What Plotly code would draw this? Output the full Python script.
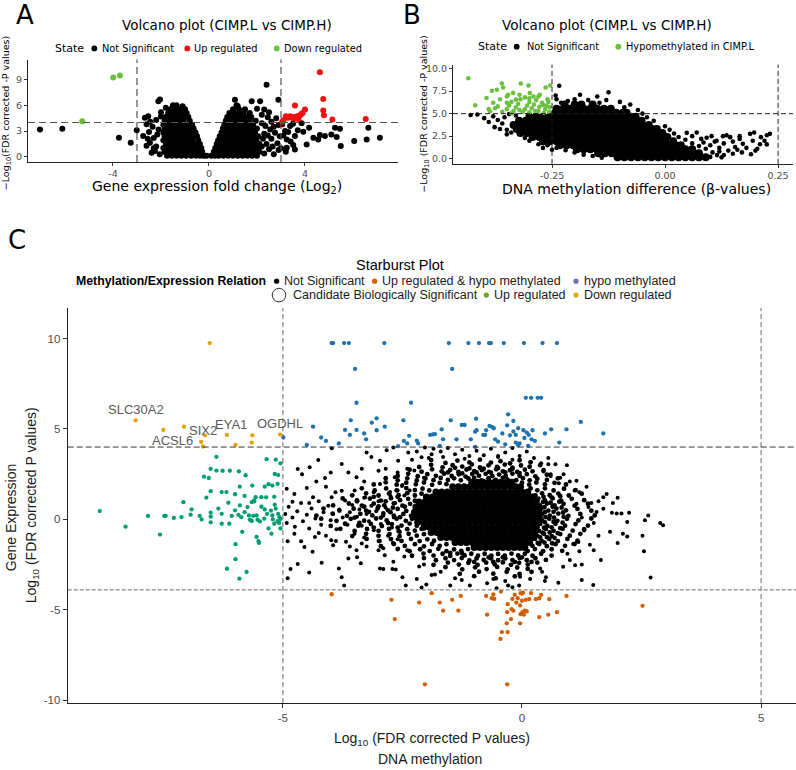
import plotly.graph_objects as go

W, H = 796, 770
def PX(p): return p / W
def PY(p): return 1 - p / H

# ================= Panel A : expression volcano =================
A_xticks = [-4, 0, 4]
A_yticks = [0, 3, 6, 9]
A_fc_cut = [-3, 3]
A_p_cut = 4
A_down_pts = [(-3.99, 9.23), (-3.71, 9.46), (-5.28, 4.15)]
A_up_pts = [(4.62, 9.84), (4.76, 6.73), (4.76, 5.38), (4.79, 4.84), (5.14, 4.35), (6.53, 4.42), (3.58, 5.96),
            (4.0, 5.5), (3.9, 5.11), (3.8, 4.84), (3.65, 4.61), (3.55, 4.65), (3.38, 4.73), (3.2, 4.73), (3.1, 4.27),
            (3.73, 4.4), (3.62, 4.45), (3.85, 5.0), (3.3, 4.55), (3.05, 4.1), (3.7, 4.75), (3.5, 4.5)]
A_ns_pts = [(-7.04, 3.19), (-6.11, 3.27), (-3.75, 2.23), (-3.26, 1.65), (-3.01, 3.11),
            (-2.04, 6.66), (-2.11, 6.46), (-2.67, 4.54), (-2.53, 4.73), (-2.45, 4.1), (-2.6, 3.8), (-2.35, 3.5),
            (-2.2, 4.3), (-2.74, 2.42), (-2.5, 2.9), (-2.46, 1.65), (-2.3, 2.2), (-2.39, 0.5), (-2.2, 1.2),
            (-2.05, 0.3), (-2.1, 3.2), (-2.0, 5.2), (-2.3, 1.0), (-2.55, 2.1), (-2.15, 2.6), (-2.0, 4.7),
            (-2.25, 0.7), (-2.6, 1.3), (-1.8, 5.7), (-1.5, 6.0), (-1.1, 5.9),
            (2.3, 0.4), (2.5, 0.9), (2.7, 0.3), (2.4, 1.5), (2.6, 2.1), (2.85, 1.6), (2.3, 2.7), (2.55, 3.2),
            (2.75, 2.8), (2.35, 3.6), (2.6, 4.1), (2.9, 3.7), (2.45, 4.6), (2.2, 4.9), (2.8, 4.5), (2.95, 2.4),
            (2.65, 1.2), (2.9, 0.8), (2.3, 5.5), (2.13, 6.46), (1.78, 6.46), (1.08, 6.65), (2.4, 8.38),
            (2.89, 6.65), (1.2, 5.9), (2.0, 5.6), (2.5, 5.2), (2.7, 3.5), (2.2, 3.9), (2.25, 2.1), (2.2, 1.2),
            (2.45, 2.5), (5.25, 3.38), (5.46, 3.27), (6.64, 3.38), (7.12, 2.23), (6.57, 2.04), (6.05, 1.85),
            (5.49, 1.27), (5.32, 2.31), (4.62, 2.54), (4.83, 2.42), (4.55, 2.04), (4.35, 2.23), (4.07, 1.46),
            (4.17, 3.38), (3.93, 2.92), (3.58, 2.42), (3.51, 1.38), (3.58, 0.88), (3.24, 1.07), (3.0, 1.0),
            (3.38, 3.58), (3.5, 3.85), (3.17, 3.0), (3.24, 2.04), (3.3, 2.9), (3.7, 3.1), (3.86, 3.9), (3.1, 2.5),
            (3.4, 1.8), (3.05, 3.8), (3.2, 0.6), (5.1, 2.6)]
A_core_y = [0.15, 0.6, 1.05, 1.5, 1.95, 2.4, 2.85, 3.3, 3.75, 4.2, 4.65, 5.1, 5.55, 6.0]
A_core_x = [
    [-1.75, -1.55, -1.35, -1.15, -0.95, -0.75, -0.55, -0.38, -0.22, -0.1, 0.1, 0.24, 0.4, 0.6, 0.8, 1.0, 1.2, 1.4, 1.6, 1.8, 2.0],
    [-1.85, -1.65, -1.45, -1.25, -1.05, -0.85, -0.65, -0.45, -0.28, 0.2, 0.36, 0.52, 0.7, 0.9, 1.1, 1.3, 1.5, 1.7, 1.9, 2.1],
    [-1.9, -1.7, -1.5, -1.3, -1.1, -0.9, -0.7, -0.5, -0.32, 0.26, 0.44, 0.62, 0.8, 1.0, 1.2, 1.4, 1.6, 1.8, 2.0],
    [-1.8, -1.6, -1.4, -1.2, -1.0, -0.8, -0.6, -0.38, 0.32, 0.5, 0.7, 0.9, 1.1, 1.3, 1.5, 1.7, 1.9, 2.1],
    [-1.9, -1.7, -1.5, -1.3, -1.1, -0.9, -0.7, -0.45, 0.38, 0.58, 0.78, 0.98, 1.18, 1.38, 1.58, 1.78, 1.98],
    [-1.85, -1.65, -1.45, -1.25, -1.05, -0.85, -0.65, -0.5, 0.45, 0.65, 0.85, 1.05, 1.25, 1.45, 1.65, 1.85, 2.05],
    [-1.9, -1.7, -1.5, -1.3, -1.1, -0.9, -0.7, -0.56, 0.52, 0.72, 0.92, 1.12, 1.32, 1.52, 1.72, 1.92],
    [-1.85, -1.65, -1.45, -1.25, -1.05, -0.85, -0.64, 0.58, 0.78, 0.98, 1.18, 1.38, 1.58, 1.78, 2.0],
    [-1.9, -1.7, -1.5, -1.3, -1.1, -0.9, -0.7, 0.64, 0.84, 1.04, 1.24, 1.44, 1.64, 1.84],
    [-1.85, -1.65, -1.45, -1.25, -1.05, -0.8, 0.7, 0.9, 1.1, 1.3, 1.5, 1.7, 1.95],
    [-1.8, -1.6, -1.4, -1.2, -1.0, -0.86, 0.76, 0.96, 1.16, 1.36, 1.56, 1.76],
    [-1.7, -1.5, -1.3, -1.1, -0.93, 0.85, 1.05, 1.25, 1.45, 1.7],
    [-1.6, -1.4, -1.2, -1.0, 1.0, 1.25, 1.5],
    [-1.35, 1.15]]

# ================= Panel B : methylation volcano =================
B_xticks = [-0.25, 0.0, 0.25]
B_xticktext = ["-0.25", "0.00", "0.25"]
B_yticks = [0, 2.5, 5, 7.5, 10]
B_yticktext = ["0.0", "2.5", "5.0", "7.5", "10.0"]
B_diff_cut = [-0.25, 0.25]
B_p_cut = 5
B_hypo_pts = [(-0.435, 8.93), (-0.42, 5.92), (-0.395, 6.73), (-0.383, 7.54), (-0.372, 7.65), (-0.361, 8.35),
              (-0.358, 7.9), (-0.387, 5.26), (-0.376, 5.6), (-0.319, 8.35), (-0.302, 8.12), (-0.264, 7.9),
              (-0.254, 8.12), (-0.347, 7.1), (-0.336, 7.3), (-0.322, 7.1), (-0.299, 7.28), (-0.291, 6.9),
              (-0.277, 7.1), (-0.36, 5.2), (-0.35, 5.5), (-0.345, 5.9), (-0.34, 6.3), (-0.335, 5.3), (-0.33, 5.7),
              (-0.325, 6.1), (-0.32, 6.6), (-0.315, 5.2), (-0.31, 5.5), (-0.305, 5.9), (-0.3, 6.3), (-0.3, 5.15),
              (-0.295, 5.6), (-0.29, 6.0), (-0.285, 6.5), (-0.28, 5.3), (-0.278, 5.75), (-0.272, 6.2),
              (-0.268, 5.1), (-0.265, 5.5), (-0.262, 5.9), (-0.258, 6.3), (-0.256, 5.2), (-0.255, 5.7),
              (-0.31, 6.8), (-0.33, 6.55), (-0.35, 6.2), (-0.37, 5.8), (-0.38, 6.2), (-0.365, 6.6), (-0.39, 5.5),
              (-0.322, 5.4), (-0.287, 5.3), (-0.27, 5.95), (-0.34, 5.05), (-0.3, 6.7), (-0.28, 6.9), (-0.26, 6.6),
              (-0.35, 6.9)]
B_ns_pts = [(-0.415, 4.9), (-0.39, 4.08), (-0.377, 3.5), (-0.37, 4.3), (-0.36, 3.9), (-0.355, 4.6), (-0.35, 3.2),
            (-0.345, 4.95), (-0.34, 2.9), (-0.33, 4.8), (-0.4, 4.5), (-0.38, 4.7), (-0.365, 3.3), (-0.35, 2.7),
            (-0.43, 4.85), (-0.234, 8.1), (-0.125, 7.36), (-0.188, 7.1), (-0.2, 6.6), (-0.215, 6.4), (-0.17, 6.5),
            (-0.145, 6.2), (-0.13, 6.5), (-0.1, 6.3), (-0.077, 6.0), (-0.09, 5.7), (-0.06, 5.4), (-0.05, 5.0),
            (-0.04, 4.6), (-0.025, 4.2), (-0.15, 6.9), (-0.24, 6.6), (-0.23, 6.2), (-0.242, 7.0),
            (0.0, 3.6), (0.01, 3.2), (0.02, 2.8), (0.03, 2.4), (0.045, 2.1), (0.06, 1.7), (0.075, 1.4), (0.09, 1.1),
            (0.105, 0.7), (0.115, 0.4), (0.048, 2.87), (0.07, 2.9), (0.092, 2.32), (0.114, 2.0), (0.136, 2.6),
            (0.15, 1.9), (0.165, 2.2), (0.172, 1.65), (0.194, 2.0), (0.197, 2.9), (0.204, 1.1), (0.225, 2.61),
            (0.232, 2.76), (0.212, 2.39), (0.188, 2.76), (0.225, 1.59), (0.165, 2.5), (0.144, 2.39), (0.128, 2.5),
            (0.103, 2.5), (0.085, 1.8), (0.1, 1.5), (0.12, 1.2), (0.13, 1.7), (0.14, 0.9), (0.155, 1.3),
            (0.17, 0.7), (0.18, 1.2), (0.19, 0.5), (0.13, 0.4), (0.15, 0.55), (0.2, 0.9), (0.21, 1.6), (0.22, 2.0),
            (0.11, 1.9), (0.08, 2.2), (0.06, 2.5), (0.12, 0.8), (0.16, 1.0), (0.1, 0.2), (0.125, 0.15),
            (-0.31, 2.3), (-0.28, 1.6), (-0.26, 1.5), (-0.24, 1.2), (-0.22, 0.95), (-0.2, 0.7), (-0.18, 0.45),
            (-0.16, 0.3), (-0.14, 0.1), (-0.3, 2.0), (-0.27, 1.2), (-0.25, 1.0)]
B_core_y = [0.15, 0.6, 1.05, 1.5, 1.95, 2.4, 2.85, 3.3, 3.75, 4.2, 4.65, 5.1, 5.55, 6.0]
B_core_x = [
    [-0.105, -0.09, -0.075, -0.06, -0.045, -0.03, -0.015, 0.0, 0.015, 0.03, 0.045, 0.06, 0.075, 0.09],
    [-0.148, -0.133, -0.118, -0.103, -0.088, -0.073, -0.058, -0.043, -0.028, -0.013, 0.002, 0.017, 0.032, 0.047, 0.062, 0.075],
    [-0.195, -0.18, -0.165, -0.15, -0.135, -0.12, -0.105, -0.09, -0.075, -0.06, -0.045, -0.03, -0.015, 0.0, 0.015, 0.03, 0.045, 0.06],
    [-0.233, -0.218, -0.203, -0.188, -0.173, -0.158, -0.143, -0.128, -0.113, -0.098, -0.083, -0.068, -0.053, -0.038, -0.023, -0.008, 0.007, 0.022, 0.035],
    [-0.27, -0.255, -0.24, -0.225, -0.21, -0.195, -0.18, -0.165, -0.15, -0.135, -0.12, -0.105, -0.09, -0.075, -0.06, -0.045, -0.03, -0.015, 0.0, 0.018],
    [-0.293, -0.278, -0.263, -0.248, -0.233, -0.218, -0.203, -0.188, -0.173, -0.158, -0.143, -0.128, -0.113, -0.098, -0.083, -0.068, -0.053, -0.038, -0.023, -0.008, 0.005],
    [-0.32, -0.305, -0.29, -0.275, -0.26, -0.245, -0.23, -0.215, -0.2, -0.185, -0.17, -0.155, -0.14, -0.125, -0.11, -0.095, -0.08, -0.065, -0.05, -0.035, -0.02, -0.006],
    [-0.328, -0.313, -0.298, -0.283, -0.268, -0.253, -0.238, -0.223, -0.208, -0.193, -0.178, -0.163, -0.148, -0.133, -0.118, -0.103, -0.088, -0.073, -0.058, -0.043, -0.028, -0.018],
    [-0.335, -0.32, -0.305, -0.29, -0.275, -0.26, -0.245, -0.23, -0.215, -0.2, -0.185, -0.17, -0.155, -0.14, -0.125, -0.11, -0.095, -0.08, -0.065, -0.05, -0.036],
    [-0.323, -0.308, -0.293, -0.278, -0.263, -0.248, -0.233, -0.218, -0.203, -0.188, -0.173, -0.158, -0.143, -0.128, -0.113, -0.098, -0.083, -0.068, -0.052],
    [-0.3, -0.285, -0.27, -0.255, -0.24, -0.225, -0.21, -0.195, -0.18, -0.165, -0.15, -0.135, -0.12, -0.105, -0.09, -0.075, -0.065],
    [-0.243, -0.228, -0.213, -0.198, -0.183, -0.168, -0.153, -0.138, -0.123, -0.108, -0.093, -0.085],
    [-0.24, -0.225, -0.21, -0.195, -0.18, -0.165, -0.15, -0.135, -0.12],
    [-0.222, -0.2, -0.185, -0.16]]

# ================= Panel C : starburst =================
C_xticks = [-5, 0, 5]
C_yticks = [-10, -5, 0, 5, 10]
C_meth_cut = [-5, 5]
C_exp_cut = [4, -3.9]
C_down_pts = [(-6.53, 9.75), (-8.08, 5.48), (-7.5, 4.95), (-7.07, 5.13), (-6.63, 4.65), (-6.71, 4.29), (-6.67, 4.03),
              (-6.17, 4.67), (-5.99, 4.12), (-5.64, 4.65), (-5.65, 4.25), (-5.06, 4.69)]
C_gene_names = ["SLC30A2", "SIX2", "ACSL6", "EYA1", "OGDHL"]
C_gene_x = [-8.08, -6.71, -6.67, -6.17, -5.06]
C_gene_y = [5.48, 4.29, 4.03, 4.67, 4.69]
C_up_pts = [(-3.98, 9.75), (-3.95, 9.75), (-3.72, 9.75), (-3.62, 9.75), (-2.88, 9.75), (-1.53, 9.75), (-1.12, 9.75),
            (-0.9, 9.75), (-0.69, 9.75), (-0.65, 9.75), (-0.38, 9.75), (0.04, 9.75), (0.43, 9.75), (0.73, 9.75),
            (-3.49, 8.32), (-1.46, 8.32), (-3.46, 6.45), (-2.32, 6.45), (0.08, 6.72), (0.19, 6.72), (0.33, 6.72),
            (0.4, 6.72), (-3.58, 5.48), (-3.04, 5.59), (-3.14, 5.35), (-2.87, 5.13), (-2.48, 5.48), (-4.37, 5.13),
            (-3.7, 4.95), (-3.46, 4.95), (-3.6, 4.67), (-3.3, 4.75), (-3.26, 4.43), (-3.04, 4.93), (-4.2, 4.53),
            (-4.1, 4.34), (-3.83, 4.2), (-4.5, 4.12), (-4.99, 4.53), (-2.47, 4.34), (-2.4, 4.2), (-2.36, 4.62),
            (-1.92, 4.67), (-1.86, 4.7), (-2.17, 4.2), (-0.29, 5.81), (-0.18, 5.44), (-0.96, 5.57), (-1.49, 5.48),
            (-1.26, 5.22), (-1.2, 5.22), (-0.68, 5.17), (-0.63, 5.12), (-0.31, 5.2), (1.23, 5.39), (0.93, 4.98),
            (0.61, 4.98), (1.7, 4.75), (0.48, 4.75), (0.78, 4.25), (-1.68, 4.98), (-1.82, 4.71), (-1.65, 4.43),
            (-1.37, 4.43), (-1.07, 4.43), (-0.95, 4.93), (-0.98, 4.85), (-0.81, 4.67), (-0.77, 4.67), (-0.75, 4.93),
            (-0.59, 5.04), (-0.56, 4.43), (-0.41, 4.75), (-0.25, 4.65), (-0.18, 4.86), (-0.08, 5.04), (-0.13, 4.67),
            (0.03, 4.93), (0.1, 4.8), (0.14, 4.67), (0.22, 4.93), (0.2, 4.43), (0.27, 4.34), (-0.13, 4.25),
            (-0.05, 4.2), (-0.08, 4.1), (0.13, 4.07), (-1.72, 4.07), (-0.98, 4.01), (-2.59, 4.05), (-2.2, 4.35),
            (-0.5, 4.3), (-0.35, 4.15), (0.05, 4.5)]
C_uphypo_pts = [(-3.98, -4.14), (-2.73, -4.45), (-2.15, -4.6), (-2.66, -5.51), (-2.03, -9.12), (-1.89, -4.08),
                (-1.72, -4.6), (-1.65, -5.05), (-1.46, -4.45), (-1.33, -5.05), (-1.28, -4.23), (-0.73, -5.27),
                (-0.75, -4.23), (-0.63, -4.36), (-0.6, -4.15), (-0.58, -4.4), (-0.44, -3.99), (-0.3, -4.69),
                (-0.31, -5.13), (-0.22, -4.96), (-0.18, -5.05), (-0.23, -5.51), (-0.32, -5.75), (-0.04, -5.75),
                (-0.42, -6.23), (-0.3, -6.23), (-0.45, -6.61), (-0.31, -9.12), (-0.15, -4.17), (-0.09, -4.36),
                (-0.03, -4.08), (0.0, -4.1), (0.02, -4.05), (-0.04, -4.76), (-0.03, -5.24), (0.01, -5.13),
                (0.06, -5.05), (0.1, -5.09), (0.04, -5.27), (0.08, -4.45), (0.15, -4.41), (0.19, -4.08),
                (0.29, -4.41), (0.36, -4.36), (0.4, -4.17), (0.57, -4.41), (0.36, -5.4), (0.55, -5.27),
                (0.73, -5.13), (0.93, -4.23), (2.52, -4.78), (-0.12, -4.6), (0.0, -4.5), (-0.2, -4.4)]
C_hypo_pts = [(-6.39, 3.46), (-6.51, 2.79), (-6.39, 2.7), (-6.26, 2.69), (-6.11, 2.69), (-5.92, 2.65), (-5.78, 2.44),
              (-6.65, 2.36), (-6.55, 2.29), (-5.34, 3.33), (-5.15, 3.3), (-5.05, 3.1), (-5.17, 2.51), (-5.1, 2.45),
              (-5.9, 1.81), (-5.64, 1.87), (-5.38, 1.81), (-5.3, 1.95), (-5.22, 1.87), (-5.11, 1.96), (-6.18, 1.51),
              (-6.28, 1.51), (-6.51, 1.56), (-6.0, 1.39), (-5.8, 1.3), (-5.57, 1.23), (-5.6, 1.05), (-5.45, 1.23),
              (-5.35, 1.22), (-5.18, 1.25), (-7.08, 0.95), (-6.6, 1.2), (-8.83, 0.46), (-8.29, -0.4), (-7.82, 0.19),
              (-7.48, 0.19), (-7.45, 0.2), (-7.28, 0.08), (-7.12, 0.13), (-6.93, 0.26), (-6.91, 0.55), (-6.74, 0.19),
              (-7.57, -0.84), (-6.51, 0.37), (-6.51, -0.16), (-6.51, 0.15), (-6.28, 0.31), (-6.28, -0.24),
              (-6.12, -0.24), (-6.14, 0.92), (-6.07, 0.19), (-5.9, 0.77), (-5.93, 0.25), (-5.87, 0.12), (-5.85, -0.69),
              (-5.71, 0.22), (-5.69, -0.02), (-5.65, -0.09), (-5.62, 0.2), (-5.55, 0.22), (-5.53, -0.02),
              (-5.48, -0.11), (-5.74, 0.68), (-5.65, 0.95), (-5.6, 1.0), (-5.39, 0.04), (-5.38, 0.55), (-5.33, 0.3),
              (-5.25, 0.49), (-5.22, 0.22), (-5.21, 0.0), (-5.18, -0.24), (-5.17, 0.81), (-5.1, 0.31), (-5.11, -0.1),
              (-5.08, -0.2), (-5.15, 0.6), (-5.07, 0.12), (-5.05, 0.02), (-5.24, -0.79), (-5.55, -0.97),
              (-5.51, -1.21), (-5.5, -1.3), (-5.99, -1.37), (-5.99, -2.2), (-6.17, -2.73), (-5.76, -2.91),
              (-5.91, -3.28), (-5.8, 0.4), (-5.45, 0.7), (-6.0, 0.5), (-6.35, 0.6), (-6.7, 0.0), (-5.3, -0.5),
              (-5.05, -0.5)]
C_ns_pts = [(-4.9, -3.26), (-4.84, -2.75), (-4.69, -2.47), (-4.45, -2.93), (-4.19, -2.4), (-3.83, -2.71), (-3.77, -3.2),
            (-3.72, -3.66), (-3.63, -2.16), (-3.37, -2.43), (-3.45, -2.1), (-2.97, -2.71), (-2.9, -2.75),
            (-2.71, -2.75), (-2.64, -2.77), (-2.5, -3.2), (-2.43, -3.66), (-2.2, -3.3), (-2.1, -3.77), (-2.0, -3.6),
            (-1.89, -3.08), (-2.15, -2.6), (-2.05, -2.5), (-2.69, -2.34), (-2.46, -2.05), (-2.59, -1.61),
            (-2.4, -1.7), (-2.9, -1.6), (-3.0, -1.7), (-2.87, -1.98), (-3.35, -1.34), (-3.25, -1.5), (-3.46, -1.7),
            (-3.6, -1.5), (-3.68, -1.24), (-3.89, -1.19), (-3.99, -1.16), (-3.95, -1.43), (-4.25, -0.75),
            (-4.33, -0.97), (-4.38, -1.79), (-4.62, -1.21), (-4.55, -1.52), (-4.76, -0.79), (-4.9, -1.21),
            (-4.95, 0.3), (-4.92, -0.2), (-4.88, 0.7), (-4.8, 0.1), (-4.75, -0.4), (-4.7, 0.45), (-4.62, 0.9),
            (-4.58, -0.1), (-4.5, 0.25), (-4.45, -0.5), (-4.4, 0.6), (-4.32, 0.05), (-4.25, 1.0), (-4.2, -0.3),
            (-4.15, 0.4), (-4.05, 0.75), (-4.0, -0.05), (-3.95, 0.3), (-3.88, -0.55), (-3.82, 0.55), (-3.75, 0.1),
            (-3.7, 1.05), (-3.65, -0.3), (-3.6, 0.4), (-3.55, 0.8), (-3.5, -0.8), (-3.45, 0.15), (-3.4, 0.55),
            (-3.35, -0.35), (-3.3, 1.2), (-3.25, 0.3), (-3.2, -0.1), (-3.15, 0.75), (-3.1, -0.6), (-3.05, 0.45),
            (-3.0, 1.0), (-2.95, -0.25), (-2.9, 0.2), (-2.85, 0.65), (-2.8, -0.9), (-2.75, 1.3), (-2.72, -0.45),
            (-2.68, 0.1), (-2.65, 0.9), (-2.6, -1.1), (-2.6, 1.6), (-2.55, -0.7), (-2.5, 1.9), (-3.9, 1.5),
            (-4.1, -0.9), (-3.3, -1.0), (-3.0, -1.2), (-2.7, -1.3),
            (-4.69, 2.79), (-4.6, 2.5), (-4.44, 2.88), (-4.26, 3.28), (-4.12, 2.29), (-4.0, 2.6), (-3.98, 3.94),
            (-3.77, 3.06), (-3.63, 2.6), (-3.77, 1.59), (-4.1, 1.8), (-4.5, 1.74), (-4.76, 1.41), (-4.92, 1.69),
            (-4.8, 0.98), (-3.25, 3.7), (-3.15, 3.45), (-2.97, 3.24), (-3.0, 2.69), (-2.83, 3.83), (-2.69, 3.98),
            (-2.59, 3.24), (-2.38, 3.7), (-2.3, 3.3), (-2.2, 3.75), (-2.1, 3.43), (-2.03, 3.98), (-1.89, 3.6),
            (-3.46, 2.33), (-3.3, 2.1), (-2.97, 1.96), (-2.66, 2.33), (-2.51, 1.84), (-2.18, 2.42), (-2.05, 2.3),
            (-2.76, 1.51), (-2.46, 1.32), (-2.35, 1.6), (-3.28, 1.23), (-3.98, 1.23), (-4.37, 1.23), (-3.5, 1.6),
            (-3.1, 1.5), (-2.85, 2.8), (-2.4, 2.8), (-2.6, 2.6), (-2.25, 2.7), (-3.35, 2.8), (-4.3, 2.1), (-4.45, 0.9),
            (-1.85, 3.9), (-1.7, 3.75), (-1.55, 3.95), (-1.4, 3.6), (-1.25, 3.85), (-1.1, 3.5), (-0.95, 3.8),
            (-0.8, 3.55), (-0.65, 3.9), (-0.5, 3.45), (-0.35, 3.7), (-0.2, 3.95), (-0.05, 3.5), (0.1, 3.75),
            (0.25, 3.4), (0.4, 3.1), (0.55, 3.05), (0.7, 3.05), (0.94, 3.0), (0.45, 2.65), (0.6, 2.5), (0.8, 2.3),
            (1.0, 2.1), (1.1, 1.6), (-1.95, 3.4), (-1.65, 3.45), (-1.2, 3.35), (-0.5, 3.5), (-0.2, 3.3),
            (2.64, 0.22), (2.57, -0.05), (2.89, -0.2), (2.95, -0.33), (2.52, -0.91), (2.55, -1.76), (2.69, -3.22),
            (2.24, 0.37), (2.08, 0.32), (1.98, 0.32), (1.88, 0.37), (2.2, -0.15), (2.11, -0.79), (2.2, -0.95),
            (1.84, -0.69), (1.65, -2.25), (1.49, -3.63), (1.25, -3.35), (1.25, -2.5), (1.11, -2.53), (1.2, -1.76),
            (1.42, -1.4), (1.18, -1.25), (1.0, -2.25), (0.86, -2.62), (0.95, -1.9), (1.07, -1.36), (1.3, -0.62),
            (1.5, -0.2), (1.56, 0.41), (1.7, 0.59), (1.39, 0.68), (1.25, 0.1), (1.14, 0.86),
            (1.14, 2.14), (1.2, 1.5), (1.7, 1.23), (1.77, 1.41), (1.45, 0.9), (0.87, 2.49), (0.77, 2.0), (0.6, 2.4),
            (0.55, 3.39), (1.6, 1.0), (1.9, 0.9), (2.0, 1.2), (1.35, 1.8), (1.6, -0.9), (1.5, -1.7), (2.0, -1.3),
            (-1.82, -3.05), (-1.4, -3.26), (-1.5, -3.66), (-1.26, -3.35), (-1.09, -3.66), (-0.73, -3.53),
            (-0.53, -3.81), (-0.29, -3.66), (-0.2, -3.75), (-0.06, -3.66), (-0.04, -3.17), (0.17, -3.3), (0.5, -3.2),
            (0.38, -2.71), (0.48, -3.4), (0.76, -3.5), (0.42, -2.9), (-1.7, -2.9), (-0.6, -3.3), (-0.35, -3.4)]
# dense (but not solid) ring of non-significant probes around the core
C_ring_pts = [
    (-1.9, 3.28), (-1.6, 3.12), (-1.35, 3.25), (-1.1, 3.15), (-0.88, 3.3), (-0.65, 3.14), (-0.45, 3.22), (-0.25, 3.1),
    (-0.05, 3.27), (0.18, 3.16),
    (-2.15, 2.9), (-1.9, 3.02), (-1.66, 2.88), (-1.45, 3.0), (-1.25, 2.92), (-1.05, 3.04), (-0.88, 2.87), (-0.7, 2.99),
    (-0.52, 2.9), (-0.36, 3.03), (-0.2, 2.86), (-0.02, 2.98), (0.16, 2.91), (0.38, 3.0),
    (-2.35, 2.75), (-2.1, 2.64), (-1.88, 2.77), (-1.68, 2.66), (-1.5, 2.74), (-1.33, 2.62), (-1.16, 2.76), (-1.0, 2.67),
    (-0.84, 2.73), (-0.69, 2.63), (-0.54, 2.77), (-0.4, 2.66), (-0.25, 2.72), (-0.1, 2.62), (0.06, 2.75), (0.22, 2.66),
    (0.45, 2.72),
    (-2.6, 2.4), (-2.38, 2.52), (-2.18, 2.38), (-1.98, 2.5), (-1.8, 2.41), (-1.63, 2.53), (-1.47, 2.4), (-1.32, 2.49),
    (-1.18, 2.37), (-1.04, 2.51), (-0.9, 2.42), (-0.76, 2.52), (-0.62, 2.39), (-0.48, 2.48), (-0.34, 2.4), (-0.2, 2.53),
    (-0.05, 2.41), (0.1, 2.5), (0.28, 2.38), (0.52, 2.47),
    (-2.85, 2.28), (-2.6, 2.16), (-2.4, 2.27), (-2.2, 2.15), (-2.02, 2.26), (-1.85, 2.17), (-1.7, 2.29), (-1.55, 2.18),
    (-1.42, 2.27), (-1.28, 2.16), (-1.12, 2.26), (-0.12, 2.17), (0.02, 2.28), (0.16, 2.16), (0.32, 2.25), (0.52, 2.18),
    (0.75, 2.27),
    (-3.1, 1.93), (-2.85, 2.05), (-2.62, 1.92), (-2.42, 2.03), (-2.22, 1.94), (-2.05, 2.04), (-1.88, 1.91),
    (-1.72, 2.02), (-1.58, 1.95), (0.0, 2.03), (0.15, 1.92), (0.3, 2.04), (0.48, 1.94), (0.68, 2.02), (0.92, 1.93),
    (-3.35, 1.72), (-3.08, 1.6), (-2.84, 1.71), (-2.62, 1.61), (-2.42, 1.73), (-2.24, 1.62), (-2.08, 1.7), (-1.94, 1.6),
    (0.18, 1.71), (0.32, 1.61), (0.48, 1.72), (0.66, 1.6), (0.88, 1.7), (1.12, 1.62),
    (-3.55, 1.33), (-3.26, 1.44), (-3.0, 1.32), (-2.78, 1.43), (-2.58, 1.34), (-2.4, 1.45), (-2.24, 1.32), (-2.1, 1.42),
    (0.28, 1.33), (0.42, 1.44), (0.58, 1.34), (0.76, 1.43), (0.98, 1.32), (1.25, 1.42),
    (-3.75, 1.16), (-3.45, 1.05), (-3.18, 1.15), (-2.95, 1.04), (-2.74, 1.17), (-2.55, 1.06), (-2.38, 1.14),
    (-2.24, 1.03), (0.34, 1.15), (0.48, 1.05), (0.64, 1.16), (0.82, 1.04), (1.04, 1.14), (1.3, 1.06),
    (-3.95, 0.77), (-3.62, 0.88), (-3.35, 0.76), (-3.1, 0.87), (-2.88, 0.78), (-2.68, 0.89), (-2.5, 0.76),
    (-2.34, 0.86), (0.38, 0.77), (0.52, 0.88), (0.68, 0.78), (0.87, 0.86), (1.1, 0.76), (1.38, 0.87),
    (-4.15, 0.6), (-3.82, 0.49), (-3.52, 0.59), (-3.26, 0.48), (-3.02, 0.6), (-2.8, 0.5), (-2.6, 0.58), (-2.42, 0.47),
    (0.4, 0.59), (0.55, 0.49), (0.72, 0.6), (0.92, 0.5), (1.16, 0.58), (1.45, 0.48),
    (-4.3, 0.21), (-3.96, 0.32), (-3.66, 0.2), (-3.38, 0.31), (-3.13, 0.22), (-2.9, 0.33), (-2.68, 0.21), (-2.48, 0.3),
    (-2.32, 0.2), (0.42, 0.31), (0.58, 0.21), (0.76, 0.32), (0.97, 0.2), (1.22, 0.3), (1.52, 0.22),
    (-4.2, 0.04), (-3.88, -0.08), (-3.58, 0.03), (-3.3, -0.07), (-3.05, 0.05), (-2.83, -0.06), (-2.62, 0.04),
    (-2.43, -0.08), (-2.3, 0.03), (0.42, -0.07), (0.57, 0.04), (0.74, -0.08), (0.94, 0.03), (1.18, -0.06), (1.45, 0.05),
    (-4.0, -0.36), (-3.7, -0.24), (-3.42, -0.35), (-3.16, -0.25), (-2.93, -0.37), (-2.72, -0.26), (-2.52, -0.34),
    (-2.35, -0.23), (-2.2, -0.35), (0.38, -0.25), (0.53, -0.36), (0.7, -0.24), (0.9, -0.35), (1.12, -0.26),
    (1.38, -0.34),
    (-3.8, -0.52), (-3.5, -0.64), (-3.24, -0.53), (-3.0, -0.63), (-2.78, -0.52), (-2.58, -0.65), (-2.4, -0.54),
    (-2.24, -0.62), (-2.1, -0.52), (0.36, -0.64), (0.5, -0.53), (0.66, -0.63), (0.85, -0.52), (1.06, -0.62),
    (1.3, -0.54),
    (-3.55, -0.92), (-3.26, -0.8), (-3.0, -0.91), (-2.77, -0.81), (-2.56, -0.93), (-2.37, -0.8), (-2.2, -0.9),
    (-2.05, -0.82), (0.32, -0.91), (0.46, -0.8), (0.62, -0.92), (0.8, -0.81), (1.0, -0.9), (1.22, -0.8),
    (-3.25, -1.08), (-2.98, -1.2), (-2.74, -1.09), (-2.52, -1.19), (-2.32, -1.08), (-2.14, -1.2), (-1.98, -1.1),
    (-1.84, -1.18), (0.27, -1.08), (0.41, -1.19), (0.57, -1.09), (0.75, -1.2), (0.95, -1.08), (1.16, -1.18),
    (-2.95, -1.48), (-2.68, -1.36), (-2.45, -1.47), (-2.24, -1.37), (-2.05, -1.49), (-1.88, -1.36), (-1.72, -1.46),
    (-1.58, -1.37), (0.22, -1.47), (0.36, -1.36), (0.52, -1.48), (0.7, -1.37), (0.9, -1.46), (1.1, -1.36),
    (-2.6, -1.64), (-2.35, -1.76), (-2.13, -1.65), (-1.93, -1.75), (-1.75, -1.63), (-1.58, -1.76), (-1.42, -1.66),
    (-1.27, -1.74), (-1.13, -1.64), (0.12, -1.75), (0.27, -1.64), (0.44, -1.76), (0.62, -1.65), (0.84, -1.74),
    (-2.3, -2.01), (-2.06, -1.89), (-1.85, -2.0), (-1.66, -1.9), (-1.5, -2.02), (-1.35, -1.89), (-1.2, -1.99),
    (-1.06, -1.9), (-0.92, -2.01), (-0.78, -1.9), (-0.64, -2.01), (-0.5, -1.91), (-0.36, -2.0), (-0.22, -1.89),
    (-0.08, -1.99), (0.06, -1.9), (0.22, -2.01), (0.4, -1.9), (0.62, -2.0),
    (-2.05, -2.14), (-1.8, -2.26), (-1.6, -2.15), (-1.42, -2.25), (-1.26, -2.14), (-1.1, -2.27), (-0.95, -2.16),
    (-0.8, -2.24), (-0.65, -2.15), (-0.5, -2.26), (-0.35, -2.16), (-0.2, -2.25), (-0.05, -2.14), (0.1, -2.26),
    (0.28, -2.15), (0.5, -2.24),
    (-1.85, -2.51), (-1.55, -2.39), (-1.32, -2.5), (-1.12, -2.4), (-0.93, -2.52), (-0.75, -2.39), (-0.57, -2.49),
    (-0.4, -2.38), (-0.23, -2.51), (-0.06, -2.4), (0.12, -2.5), (0.32, -2.39),
    (-1.6, -2.64), (-1.25, -2.76), (-0.98, -2.65), (-0.74, -2.75), (-0.52, -2.63), (-0.3, -2.76), (-0.1, -2.66),
    (0.12, -2.74),
    (-1.3, -3.01), (-0.9, -2.89), (-0.6, -3.0), (-0.32, -2.9), (-0.05, -3.02), (0.2, -2.9),
    (-1.0, -3.14), (-0.55, -3.26), (-0.15, -3.15),
    (0.45, 1.25), (0.62, 1.22), (0.8, 1.28), (0.44, 0.97), (0.6, 0.92), (0.78, 0.98), (0.47, 0.68), (0.64, 0.7),
    (0.83, 0.66), (0.48, 0.4), (0.66, 0.42), (0.86, 0.38), (0.49, 0.12), (0.67, 0.1), (0.87, 0.14), (0.48, -0.16),
    (0.66, -0.13), (0.85, -0.18), (0.46, -0.46), (0.62, -0.44), (0.8, -0.48), (0.43, -0.74), (0.58, -0.72),
    (0.75, -0.76), (0.38, -1.0), (0.52, -0.98), (0.68, -1.02), (0.33, -1.3), (0.47, -1.28), (0.63, -1.32),
    (-1.55, 2.6), (-1.25, 2.55), (-0.95, 2.6), (-0.65, 2.58), (-0.35, 2.6), (-0.05, 2.56), (-1.4, 2.85),
    (-1.1, 2.82), (-0.8, 2.8), (-0.5, 2.84), (-0.2, 2.8), (-1.0, 2.3), (-0.7, 2.28), (-0.4, 2.3), (-0.85, 2.15),
    (-0.55, 2.18), (-0.3, 2.2),
    (-3.5, 0.1), (-3.2, 0.42), (-2.95, 0.1), (-2.75, 0.4), (-2.55, 0.12), (-3.4, -0.2), (-3.1, -0.45), (-2.8, -0.2),
    (-2.6, -0.45), (-3.3, 0.7), (-3.0, 0.72), (-2.7, 0.65), (-2.45, 0.7), (-3.45, 1.0), (-3.1, 1.25), (-2.85, 1.0),
    (-2.6, 1.25),
    (-1.5, -1.85), (-1.25, -1.88), (-0.7, -2.1), (-0.4, -2.1), (0.0, -2.1), (-1.0, -2.35), (-0.6, -2.35),
    (-0.15, -2.35), (0.2, -2.35)]
C_core_y = [2.06, 1.8, 1.52, 1.24, 0.96, 0.68, 0.4, 0.12, -0.16, -0.44, -0.72, -1.0, -1.28, -1.56]
C_core_x = [
    [-1.05, -0.93, -0.81, -0.69, -0.57, -0.45, -0.33, -0.21],
    [-1.45, -1.33, -1.21, -1.09, -0.97, -0.85, -0.73, -0.61, -0.49, -0.37, -0.25, -0.13, -0.03],
    [-1.8, -1.68, -1.56, -1.44, -1.32, -1.2, -1.08, -0.96, -0.84, -0.72, -0.6, -0.48, -0.36, -0.24, -0.12, 0.0, 0.12],
    [-2.0, -1.88, -1.76, -1.64, -1.52, -1.4, -1.28, -1.16, -1.04, -0.92, -0.8, -0.68, -0.56, -0.44, -0.32, -0.2, -0.08, 0.04, 0.16, 0.22],
    [-2.15, -2.03, -1.91, -1.79, -1.67, -1.55, -1.43, -1.31, -1.19, -1.07, -0.95, -0.83, -0.71, -0.59, -0.47, -0.35, -0.23, -0.11, 0.01, 0.13, 0.25, 0.3],
    [-2.22, -2.1, -1.98, -1.86, -1.74, -1.62, -1.5, -1.38, -1.26, -1.14, -1.02, -0.9, -0.78, -0.66, -0.54, -0.42, -0.3, -0.18, -0.06, 0.06, 0.18, 0.3, 0.34],
    [-2.25, -2.13, -2.01, -1.89, -1.77, -1.65, -1.53, -1.41, -1.29, -1.17, -1.05, -0.93, -0.81, -0.69, -0.57, -0.45, -0.33, -0.21, -0.09, 0.03, 0.15, 0.27, 0.35],
    [-2.22, -2.1, -1.98, -1.86, -1.74, -1.62, -1.5, -1.38, -1.26, -1.14, -1.02, -0.9, -0.78, -0.66, -0.54, -0.42, -0.3, -0.18, -0.06, 0.06, 0.18, 0.3, 0.36],
    [-2.18, -2.06, -1.94, -1.82, -1.7, -1.58, -1.46, -1.34, -1.22, -1.1, -0.98, -0.86, -0.74, -0.62, -0.5, -0.38, -0.26, -0.14, -0.02, 0.1, 0.22, 0.33],
    [-2.05, -1.93, -1.81, -1.69, -1.57, -1.45, -1.33, -1.21, -1.09, -0.97, -0.85, -0.73, -0.61, -0.49, -0.37, -0.25, -0.13, -0.01, 0.11, 0.23, 0.3],
    [-1.9, -1.78, -1.66, -1.54, -1.42, -1.3, -1.18, -1.06, -0.94, -0.82, -0.7, -0.58, -0.46, -0.34, -0.22, -0.1, 0.02, 0.14, 0.26],
    [-1.7, -1.58, -1.46, -1.34, -1.22, -1.1, -0.98, -0.86, -0.74, -0.62, -0.5, -0.38, -0.26, -0.14, -0.02, 0.1, 0.22],
    [-1.4, -1.28, -1.16, -1.04, -0.92, -0.8, -0.68, -0.56, -0.44, -0.32, -0.2, -0.08, 0.04, 0.16],
    [-1.0, -0.88, -0.76, -0.64, -0.52, -0.4, -0.28, -0.16, -0.04, 0.06]]

# ================= colours / fonts =================
DJ = "DejaVu Sans"
LS = "Liberation Sans, Arial, sans-serif"
COL_RED = "#F01010"
COL_LGREEN = "#6CC040"
C_COL_HYPO = "#009E73"
C_COL_UP = "#1F72B0"
C_COL_UPHYPO = "#D55E00"
C_COL_DOWN = "#E69F00"
LEG_C = ["#000000", "#D95F02", "#7570B3", "#66A61E", "#E6AB02"]


def unz(pts):
    return [p[0] for p in pts], [p[1] for p in pts]


def rows(ys, xrows):
    xx, yy = [], []
    for y, xr in zip(ys, xrows):
        xx += list(xr)
        yy += [y] * len(xr)
    return xx, yy


fig = go.Figure()


def add(x, y, xa, ya, color, size, symbol="circle", line=None):
    fig.add_trace(go.Scatter(x=x, y=y, mode="markers", xaxis=xa, yaxis=ya, hoverinfo="skip",
                             marker=dict(color=color, size=size, symbol=symbol,
                                         line=line or dict(width=0))))


# Panel A
add(*rows(A_core_y, A_core_x), "x", "y", "black", 6)
add(*unz(A_ns_pts), "x", "y", "black", 6)
add(*unz(A_up_pts), "x", "y", COL_RED, 6)
add(*unz(A_down_pts), "x", "y", COL_LGREEN, 6)
# Panel B
add(*rows(B_core_y, B_core_x), "x2", "y2", "black", 8)
add(*unz(B_ns_pts), "x2", "y2", "black", 4.6)
add(*unz(B_hypo_pts), "x2", "y2", COL_LGREEN, 4.6)
# Panel C
add(*rows(C_core_y, C_core_x), "x3", "y3", "black", 7)
add(*unz(C_ring_pts), "x3", "y3", "black", 4.8)
add(*unz(C_ns_pts), "x3", "y3", "black", 4)
add(*unz(C_hypo_pts), "x3", "y3", C_COL_HYPO, 4.3)
add(*unz(C_up_pts), "x3", "y3", C_COL_UP, 4.3)
add(*unz(C_uphypo_pts), "x3", "y3", C_COL_UPHYPO, 4.3)
add(*unz(C_down_pts), "x3", "y3", C_COL_DOWN, 4.3)
add(C_gene_x, C_gene_y, "x3", "y3", "rgba(0,0,0,0)", 15, "circle-open", dict(color="#333333", width=1))


def axis(domain, rng, tv, tt, anchor, fam, fsize, lw=1, tl=3):
    return dict(domain=domain, range=rng, tickvals=tv, ticktext=tt, anchor=anchor, showline=True,
                linecolor="#222222", linewidth=lw, ticks="outside", ticklen=tl, tickcolor="#333333",
                tickfont=dict(family=fam, size=fsize, color="#4d4d4d"), showgrid=False, zeroline=False,
                fixedrange=True)


shapes = []


def vline(xref, yref, v, color, dash, width=1):
    shapes.append(dict(type="line", xref=xref, yref=yref + " domain", x0=v, x1=v, y0=0, y1=1,
                       line=dict(color=color, width=width, dash=dash)))


def hline(xref, yref, v, color, dash, width=1):
    shapes.append(dict(type="line", xref=xref + " domain", yref=yref, x0=0, x1=1, y0=v, y1=v,
                       line=dict(color=color, width=width, dash=dash)))


for v in A_fc_cut:
    vline("x", "y", v, "#555555", "7px,4px", 1.2)
hline("x", "y", A_p_cut, "#555555", "7px,4px", 1.2)
for v in B_diff_cut:
    vline("x2", "y2", v, "#222222", "5px,3px")
hline("x2", "y2", B_p_cut, "#222222", "5px,3px")
for v in C_meth_cut:
    vline("x3", "y3", v, "#666666", "5px,3px")
hline("x3", "y3", C_exp_cut[0], "#333333", "6px,3px")
hline("x3", "y3", C_exp_cut[1], "#888888", "4px,2px", 1.3)


def dot(cx, cy, r, color, open_=False):
    shapes.append(dict(type="circle", xref="paper", yref="paper", xsizemode="pixel", ysizemode="pixel",
                       xanchor=PX(cx), yanchor=PY(cy), x0=-r, x1=r, y0=-r, y1=r,
                       fillcolor="rgba(0,0,0,0)" if open_ else color,
                       line=dict(color="#333333", width=1) if open_ else dict(width=0)))


anns = []


def txt(s, cx, cy, size, fam, color="#000000", xanchor="center", angle=0, **kw):
    anns.append(dict(text=s, x=PX(cx), y=PY(cy), xref="paper", yref="paper", showarrow=False,
                     xanchor=xanchor, yanchor="middle", textangle=angle,
                     font=dict(family=fam, size=size, color=color), **kw))


# Panel A texts / legend
txt("A", 25, 13, 26, DJ)
txt("Volcano plot (CIMP.L vs CIMP.H)", 226.7, 23, 13.5, DJ)
txt("State", 53, 46.7, 11, DJ, xanchor="left")
dot(94.3, 46.7, 2.9, "black"); txt("Not Significant", 99.5, 46.7, 9.8, DJ, xanchor="left")
dot(187.3, 46.7, 2.9, COL_RED); txt("Up regulated", 192, 46.7, 9.8, DJ, xanchor="left")
dot(276.7, 46.7, 2.9, COL_LGREEN); txt("Down regulated", 281.5, 46.7, 9.8, DJ, xanchor="left")
txt("Gene expression fold change (Log<sub>2</sub>)", 216.7, 186, 14, DJ)
txt("\u2212Log<sub>10</sub>(FDR corrected -P values)", 6, 112, 9.5, DJ, angle=-90)

# Panel B texts / legend
txt("B", 411.5, 13, 26, DJ)
txt("Volcano plot (CIMP.L vs CIMP.H)", 606.7, 23, 13.5, DJ)
txt("State", 476, 45, 11, DJ, xanchor="left")
dot(516.7, 45, 2.9, "black"); txt("Not Significant", 525, 45, 9.8, DJ, xanchor="left")
dot(618.3, 45, 2.9, COL_LGREEN); txt("Hypomethylated in CIMP.L", 624, 45, 9.8, DJ, xanchor="left")
txt("DNA methylation difference (\u03b2-values)", 636.7, 188.5, 14, DJ)
txt("\u2212Log<sub>10</sub> (FDR corrected -P values)", 425, 112.5, 9.5, DJ, angle=-90)

# Panel C texts / legend
txt("C", 17, 240, 26, DJ)
txt("Starburst Plot", 400, 265, 14.5, LS)
txt("<b>Methylation/Expression Relation</b>", 73.6, 281, 12.3, LS, xanchor="left")
row1 = [(276.6, "Not Significant", 0), (374.6, "Up regulated &amp; hypo methylated", 1), (576, "hypo methylated", 2)]
for cx, s, ci in row1:
    dot(cx, 281, 2.6, LEG_C[ci])
    txt(s, cx + 5.5, 281, 12.5, LS, color="#1a1a1a", xanchor="left")
dot(279, 295, 6.8, "#333333", open_=True)
txt("Candidate Biologically Significant", 290.5, 295, 12.5, LS, color="#1a1a1a", xanchor="left")
dot(486.3, 295, 2.6, LEG_C[3]); txt("Up regulated", 492, 295, 12.5, LS, color="#1a1a1a", xanchor="left")
dot(576, 295, 2.6, LEG_C[4]); txt("Down regulated", 582, 295, 12.5, LS, color="#1a1a1a", xanchor="left")
txt("Log<sub>10</sub> (FDR corrected P values)", 431.5, 741.5, 14, LS, color="#1a1a1a")
txt("DNA methylation", 430, 761.5, 14, LS, color="#1a1a1a")
txt("Gene Expression", 10.5, 519, 14, LS, color="#1a1a1a", angle=-90)
txt("Log<sub>10</sub> (FDR corrected P values)", 31.5, 507, 14, LS, color="#1a1a1a", angle=-90)

# gene labels next to candidate points
label_shift = {"SLC30A2": (0, 11, "center"), "SIX2": (2, 11, "center"), "ACSL6": (-8, 6, "right"),
               "EYA1": (4, 10.5, "center"), "OGDHL": (0, 11, "center")}
for name, gx, gy in zip(C_gene_names, C_gene_x, C_gene_y):
    dx, dy, xa = label_shift[name]
    anns.append(dict(text=name, x=gx, y=gy, xref="x3", yref="y3", showarrow=False, xanchor=xa,
                     yanchor="middle", xshift=dx, yshift=dy,
                     font=dict(family=LS, size=13, color="#5a5a5a")))

fig.update_layout(
    width=W, height=H, margin=dict(l=0, r=0, t=0, b=0), showlegend=False,
    paper_bgcolor="white", plot_bgcolor="white",
    xaxis=axis([PX(28), PX(398)], [-7.54, 7.875], A_xticks, [str(v) for v in A_xticks], "y", DJ, 9.5),
    yaxis=axis([PY(161), PY(58)], [-0.58, 11.3], A_yticks, [str(v) for v in A_yticks], "x", DJ, 9.5),
    xaxis2=axis([PX(453), PX(793)], [-0.469, 0.283], B_xticks, B_xticktext, "y2", DJ, 9.5),
    yaxis2=axis([PY(163), PY(63)], [-0.58, 10.44], B_yticks, B_yticktext, "x2", DJ, 9.5),
    xaxis3=axis([PX(67.7), 1.0], [-9.5, 5.73], C_xticks, [str(v) for v in C_xticks], "y3", LS, 11.5, 1.2, 4),
    yaxis3=axis([PY(705.7), PY(308)], [-10.16, 11.69], C_yticks, [str(v) for v in C_yticks], "x3", LS, 11.5, 1.2, 4),
    shapes=shapes, annotations=anns,
)

fig.write_html("out.html", config={"displayModeBar": False},
               post_script="document.body.style.margin='0px';")
